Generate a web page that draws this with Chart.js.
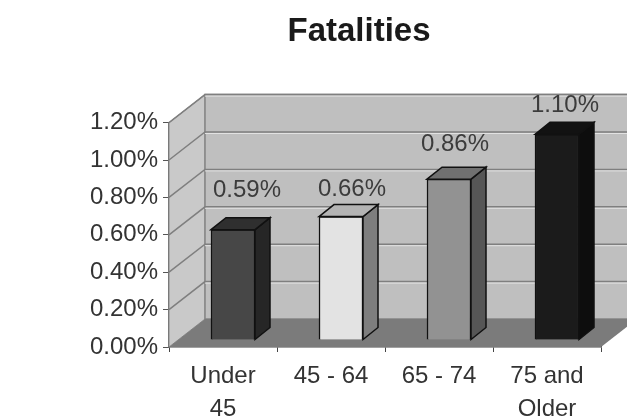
<!DOCTYPE html>
<html lang="en">

<head>
    <meta charset="UTF-8">
    <title>Fatalities</title>
    <script src="https://cdn.jsdelivr.net/npm/chart.js"></script>
    <style>
        body {
            margin: 0;
            background: #fff;
        }

        canvas {
            filter: blur(0.5px);
        }
    </style>
</head>

<body>
    <canvas id="barChart" width="627" height="420"></canvas>

    <script>
        const categories = [['Under', '45'], '45 - 64', '65 - 74', ['75 and', 'Older']];
        const fatalities = [0.59, 0.66, 0.86, 1.10];
        const barFront = ['#474747', '#e3e3e3', '#929292', '#1b1b1b'];
        const barSide = ['#262626', '#7e7e7e', '#565656', '#0d0d0d'];
        const barTop = ['#2f2f2f', '#b4b4b4', '#707070', '#121212'];

        // depth of the fake 3D box, and how far into it the bars sit
        const depthX = 36, depthY = -28;
        const barShiftX = 10, barShiftY = -7;
        const barDepthX = 15, barDepthY = -12;
        // value labels don't sit at a fixed distance from the bars in the original
        const labelNudgeX = [24, 21, 16, 18];
        const labelNudgeY = [-46, -34, -42, -36];

        function poly(ctx, pts, fill, stroke, lw) {
            ctx.beginPath();
            pts.forEach((p, i) => i ? ctx.lineTo(p[0], p[1]) : ctx.moveTo(p[0], p[1]));
            ctx.closePath();
            ctx.fillStyle = fill;
            ctx.fill();
            if (stroke) {
                ctx.strokeStyle = stroke;
                ctx.lineWidth = lw || 1;
                ctx.stroke();
            }
        }

        // walls, floor and the bars' side faces
        const box3d = {
            id: 'box3d',
            afterLayout(chart) {
                // title is centred a bit right of the canvas middle
                chart.titleBlock.left = 117;
            },
            beforeDatasetsDraw(chart) {
                const { ctx, chartArea: { left, right, top, bottom }, scales: { y } } = chart;
                ctx.save();
                poly(ctx, [[left, top], [left + depthX, top + depthY], [left + depthX, bottom + depthY], [left, bottom]], '#c9c9c9', '#8c8c8c', 1);
                poly(ctx, [[left + depthX, top + depthY], [right + depthX, top + depthY], [right + depthX, bottom + depthY], [left + depthX, bottom + depthY]], '#bfbfbf', '#858585', 1.5);
                y.ticks.forEach(t => {
                    const py = y.getPixelForValue(t.value);
                    if (t.value === 0) return;
                    ctx.beginPath();
                    ctx.moveTo(left, py);
                    ctx.lineTo(left + depthX, py + depthY);
                    ctx.lineTo(right + depthX, py + depthY);
                    ctx.strokeStyle = '#7f7f7f';
                    ctx.lineWidth = 1.5;
                    ctx.stroke();
                    ctx.beginPath();
                    ctx.moveTo(left + depthX, py + depthY + 1.5);
                    ctx.lineTo(right + depthX, py + depthY + 1.5);
                    ctx.strokeStyle = '#e2e2e2';
                    ctx.lineWidth = 1;
                    ctx.stroke();
                });
                poly(ctx, [[left, bottom], [right, bottom], [right + depthX, bottom + depthY], [left + depthX, bottom + depthY]], '#7b7b7b');
                ctx.restore();

                // bars are pushed into the box
                ctx.save();
                ctx.translate(barShiftX, barShiftY);
            },
            afterDatasetsDraw(chart) {
                const { ctx } = chart;
                chart.getDatasetMeta(0).data.forEach((bar, i) => {
                    const l = bar.x - bar.width / 2, r = bar.x + bar.width / 2;
                    poly(ctx, [[r, bar.y], [r + barDepthX, bar.y + barDepthY], [r + barDepthX, bar.base + barDepthY], [r, bar.base]], barSide[i], '#111', 1.5);
                    poly(ctx, [[l, bar.y], [l + barDepthX, bar.y + barDepthY], [r + barDepthX, bar.y + barDepthY], [r, bar.y]], barTop[i], '#111', 1.5);
                });
                ctx.restore();

                // value labels
                ctx.save();
                ctx.font = '24px "Liberation Sans", Arial, sans-serif';
                ctx.fillStyle = '#3c3c3c';
                ctx.textAlign = 'center';
                ctx.textBaseline = 'middle';
                chart.getDatasetMeta(0).data.forEach((bar, i) => {
                    ctx.fillText(fatalities[i].toFixed(2) + '%', bar.x + labelNudgeX[i], bar.y + labelNudgeY[i]);
                });
                ctx.restore();
            }
        };

        const barCtx = document.getElementById('barChart').getContext('2d');
        const barChart = new Chart(barCtx, {
            type: 'bar',
            data: {
                labels: categories,
                datasets: [{
                    data: fatalities,
                    backgroundColor: barFront,
                    borderColor: '#111',
                    borderWidth: 1.5,
                    barThickness: 44,
                    clip: false
                }]
            },
            options: {
                responsive: false,
                animation: false,
                layout: {
                    autoPadding: false,
                    padding: { left: 80, right: 26, top: 0, bottom: 0 }
                },
                plugins: {
                    legend: { display: false },
                    tooltip: { enabled: false },
                    title: {
                        display: true,
                        text: 'Fatalities',
                        color: '#1a1a1a',
                        font: { family: '"Liberation Sans", Arial, sans-serif', size: 33, weight: 'bold' },
                        padding: { top: 12, bottom: 71 }
                    }
                },
                scales: {
                    x: {
                        afterFit(scale) { scale.height = 73; },
                        border: { color: '#444', width: 1.5 },
                        grid: { drawOnChartArea: false, tickLength: 5, color: '#444' },
                        ticks: {
                            color: '#333',
                            maxRotation: 0,
                            autoSkip: false,
                            padding: 8,
                            font: { family: '"Liberation Sans", Arial, sans-serif', size: 24, lineHeight: 1.38 }
                        }
                    },
                    y: {
                        min: 0,
                        max: 1.2,
                        afterFit(scale) { scale.width = 89; },
                        border: { color: '#666', width: 1.5 },
                        grid: { drawOnChartArea: false, tickLength: 6, color: '#555' },
                        ticks: {
                            stepSize: 0.2,
                            color: '#333',
                            padding: 5,
                            font: { family: '"Liberation Sans", Arial, sans-serif', size: 24 },
                            callback: v => v.toFixed(2) + '%'
                        }
                    }
                }
            },
            plugins: [box3d]
        });
    </script>
</body>

</html>
